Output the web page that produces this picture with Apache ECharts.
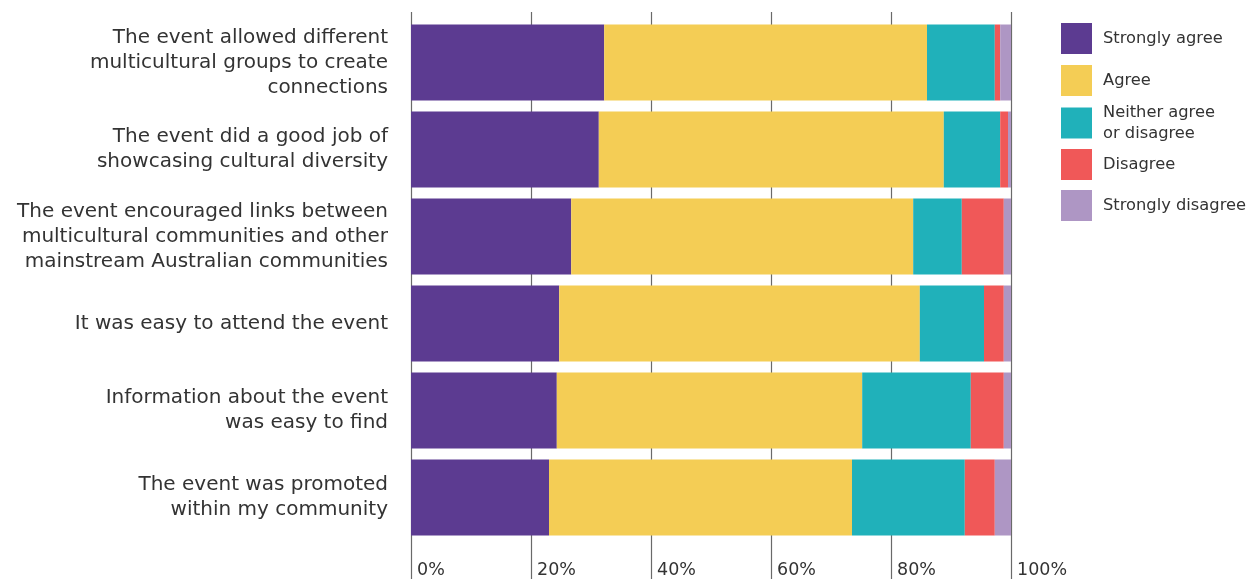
<!DOCTYPE html>
<html>
<head>
<meta charset="utf-8">
<script src="https://cdn.jsdelivr.net/npm/echarts@6/dist/echarts.min.js"></script>
<style>
  html, body { margin: 0; padding: 0; background: #fff; }
  #chart { width: 1249px; height: 579px; }
</style>
</head>
<body>
<div id="chart"></div>
<script>
// Survey statements (top to bottom)
const statements = [
  'The event allowed different\nmulticultural groups to create\nconnections',
  'The event did a good job of\nshowcasing cultural diversity',
  'The event encouraged links between\nmulticultural communities and other\nmainstream Australian communities',
  'It was easy to attend the event',
  'Information about the event\nwas easy to find',
  'The event was promoted\nwithin my community'
];

// Percentage of responses for each statement
const stronglyAgree    = [32.2, 31.3, 26.7, 24.7, 24.3, 23.0];
const agree            = [53.8, 57.5, 57.0, 60.1, 50.9, 50.5];
const neither          = [11.3,  9.4,  8.1, 10.7, 18.1, 18.8];
const disagree         = [ 0.9,  1.3,  7.0,  3.3,  5.5,  5.0];
const stronglyDisagree = [ 1.8,  0.5,  1.2,  1.2,  1.2,  2.7];

const responseNames = ['Strongly agree', 'Agree', 'Neither agree\nor disagree', 'Disagree', 'Strongly disagree'];
const responseColors = ['#5c3b91', '#f4cd55', '#20b1ba', '#f05858', '#ae96c4'];
const responseValues = [stronglyAgree, agree, neither, disagree, stronglyDisagree];

const tickValues = [0, 20, 40, 60, 80, 100];

const FONT = '"DejaVu Sans", sans-serif';
const TEXT = '#333333';

const chart = echarts.init(document.getElementById('chart'));

// top edge of each legend entry (the two-line entry is taller, so it starts higher)
const legendTops = [23, 65, 102, 149, 190];

chart.setOption({
  animation: false,
  grid: [
    { left: 411, right: 238, top: 19, height: 522 },   // bars
    { left: 411, right: 238, top: 12, bottom: 0 }      // percentage gridlines
  ],
  xAxis: [
    { gridIndex: 0, type: 'value', min: 0, max: 100, show: false },
    {
      gridIndex: 1, type: 'value', min: 0, max: 100, interval: 20,
      axisLine: { show: false },
      axisTick: { show: false },
      splitLine: { show: true, lineStyle: { color: '#6a6a6a', width: 1.2 } },
      axisLabel: {
        inside: true,
        margin: 9,
        align: 'left',
        verticalAlign: 'middle',
        padding: [0, 0, 0, 6],
        fontFamily: FONT,
        fontSize: 17.5,
        color: TEXT,
        formatter: function (v) { return tickValues.indexOf(v) >= 0 ? v + '%' : ''; }
      }
    }
  ],
  yAxis: [
    {
      gridIndex: 0, type: 'category', inverse: true, data: statements,
      axisLine: { show: false },
      axisTick: { show: false },
      axisLabel: {
        margin: 23,
        align: 'right',
        fontFamily: FONT,
        fontSize: 20,
        lineHeight: 25,
        color: TEXT
      }
    },
    { gridIndex: 1, type: 'value', show: false }
  ],
  legend: responseNames.map(function (name, i) {
    return {
      data: [name],
      left: 1061,
      top: legendTops[i],
      padding: 0,
      orient: 'vertical',
      itemWidth: 31,
      itemHeight: 31,
      itemGap: 0,
      selectedMode: false,
      icon: 'rect',
      textStyle: { fontFamily: FONT, fontSize: 16.3, color: TEXT, lineHeight: 21, padding: [0, 0, 0, 6] }
    };
  }),
  series: responseNames.map(function (name, i) {
    return {
      name: name,
      type: 'bar',
      stack: 'total',
      xAxisIndex: 0,
      yAxisIndex: 0,
      barWidth: 76,
      itemStyle: { color: responseColors[i] },
      emphasis: { disabled: true },
      data: responseValues[i],
      z: 3
    };
  })
});
</script>
</body>
</html>
